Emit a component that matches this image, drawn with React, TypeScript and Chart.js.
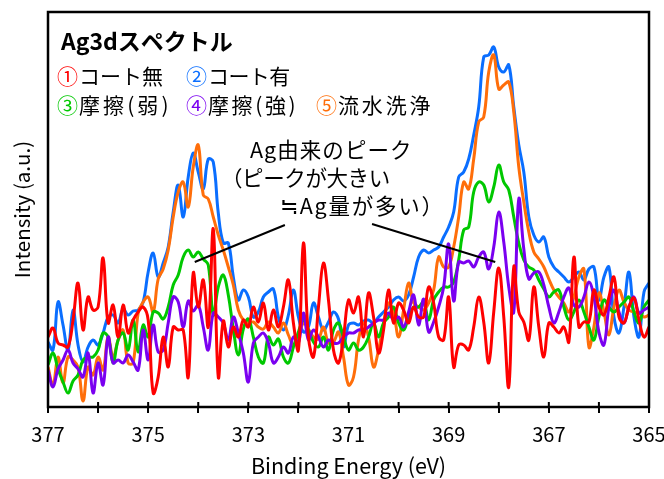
import React, { useEffect, useRef } from 'react';
import { Chart, registerables } from 'chart.js';

Chart.register(...registerables);

// Binding energy grid (eV): 377.0 → 365.0, 0.1 eV steps
const energyStart = 377;
const energyStep = 0.1;
const pointCount = 121;
const energies: number[] = Array.from({ length: pointCount }, (_, n) => Math.round((energyStart - energyStep * n) * 10) / 10);

// Intensities (a.u.), ordered from 377.0 eV to 365.0 eV
const coatNone: number[] = [
  70, 79, 64, 62, 60, 87, 124, 77, 110, 97, 100, 149, 84, 102, 70, 102, 74, 87, 95, 100,
  87, 14, 30, 70, 40, 80, 77, 77, 30, 134, 100, 127, 80, 178, 30, 86, 60, 80, 70, 87, 80,
  100, 85, 104, 77, 97, 80, 100, 127, 84, 57, 164, 70, 50, 100, 144, 107, 57, 44, 70, 107,
  94, 110, 70, 114, 90, 54, 77, 117, 84, 104, 97, 84, 100, 90, 90, 120, 104, 70, 67, 110,
  40, 62, 62, 57, 80, 110, 85, 44, 95, 139, 90, 20, 140, 95, 85, 67, 120, 80, 50, 84,
  80, 74, 80, 65, 150, 80, 85, 85, 117, 100, 92, 110, 130, 90, 84, 100, 109, 87, 70, 80,
];
const coatYes: number[] = [
  65, 57, 105, 82, 57, 97, 62, 45, 60, 67, 62, 74, 90, 92, 84, 98, 92, 96, 97, 105,
  135, 154, 130, 144, 160, 195, 222, 190, 230, 254, 235, 218, 248, 245, 194, 164, 164, 130, 107, 117, 110,
  90, 95, 110, 115, 118, 90, 77, 92, 117, 90, 75, 80, 104, 90, 77, 85, 95, 88, 60, 82,
  84, 82, 86, 87, 84, 90, 95, 100, 107, 110, 106, 112, 130, 150, 157, 154, 157, 160, 170, 180,
  195, 230, 235, 248, 272, 300, 350, 352, 360, 340, 335, 342, 300, 262, 235, 190, 172, 165, 170, 150,
  140, 135, 130, 125, 130, 135, 127, 138, 140, 107, 130, 140, 90, 74, 100, 135, 90, 70, 115, 124,
];
const rubWeak: number[] = [
  42, 54, 38, 25, 14, 26, 32, 47, 50, 50, 57, 74, 70, 44, 67, 74, 57, 87, 55, 82,
  70, 95, 94, 88, 100, 122, 132, 150, 157, 150, 155, 148, 142, 92, 120, 132, 112, 78, 52, 78, 88,
  70, 50, 44, 70, 62, 68, 50, 44, 60, 75, 87, 77, 65, 60, 70, 57, 77, 84, 70, 57,
  64, 57, 60, 70, 84, 70, 84, 90, 100, 84, 77, 90, 100, 100, 105, 87, 107, 115, 120, 120,
  125, 147, 177, 180, 215, 225, 222, 205, 220, 242, 225, 217, 190, 164, 147, 140, 137, 127, 118, 110,
  115, 117, 100, 87, 95, 107, 95, 80, 67, 90, 107, 100, 95, 100, 105, 110, 95, 84, 100, 107,
];
const rubStrong: number[] = [
  37, 20, 38, 47, 57, 44, 38, 30, 54, 14, 44, 22, 70, 44, 47, 44, 52, 45, 37, 77,
  47, 82, 55, 57, 84, 110, 105, 80, 106, 96, 102, 80, 57, 94, 90, 84, 67, 90, 74, 54, 25,
  64, 70, 74, 64, 44, 50, 60, 54, 70, 64, 94, 67, 77, 70, 60, 67, 64, 64, 70, 74,
  74, 77, 77, 80, 84, 87, 87, 94, 87, 90, 80, 95, 112, 82, 108, 75, 85, 100, 120, 163,
  106, 145, 144, 146, 140, 150, 155, 138, 160, 195, 165, 120, 95, 208, 158, 128, 134, 135, 122, 100,
  84, 95, 110, 119, 102, 100, 110, 125, 110, 75, 62, 100, 117, 95, 84, 100, 110, 94, 97, 100,
];
const waterWash: number[] = [
  40, 22, 50, 24, 50, 47, 40, 6, 40, 32, 50, 37, 70, 50, 67, 77, 44, 44, 94, 105,
  110, 95, 128, 138, 157, 190, 215, 225, 200, 240, 262, 212, 208, 190, 172, 157, 140, 122, 97, 87, 84,
  85, 80, 78, 85, 80, 74, 84, 72, 62, 70, 84, 78, 70, 68, 80, 64, 65, 75, 50, 22,
  30, 67, 84, 70, 40, 57, 84, 104, 94, 70, 97, 124, 104, 100, 97, 104, 117, 150, 140, 140,
  160, 190, 225, 218, 248, 285, 290, 335, 352, 318, 322, 325, 295, 240, 205, 175, 155, 148, 140, 128,
  117, 110, 104, 95, 110, 130, 138, 60, 80, 114, 95, 72, 100, 117, 105, 97, 95, 94, 90, 92,
];

const seriesNames = ['①コート無', '②コート有', '③摩擦(弱)', '④摩擦(強)', '⑤流水洗浄'];
const xTitle = 'Binding Energy (eV)';
const yTitle = 'Intensity (a.u.)';
const chartTitle = 'Ag3dスペクトル';
const noteLines = ['Ag由来のピーク', '（ピークが大きい', '≒Ag量が多い）'];

const RED = '#FF0000';
const BLUE = '#0A6EFF';
const GREEN = '#00C800';
const PURPLE = '#7A00F0';
const ORANGE = '#FF6E0A';

const FONT = '"Noto Sans CJK JP", "Noto Sans", sans-serif';

const toPoints = (vals: number[]) => energies.map((e, n) => ({ x: e, y: vals[n] }));

// draw text starting at x so that it spans up to xEnd (letter spacing adjusted)
function fitText(ctx: any, text: string, x: number, xEnd: number, y: number) {
  ctx.letterSpacing = '0px';
  const natural = ctx.measureText(text).width;
  const n = Array.from(text).length;
  const ls = n > 1 ? (xEnd - x - natural) / (n - 0.5) : 0;
  ctx.letterSpacing = `${ls.toFixed(2)}px`;
  ctx.fillText(text, x, y);
  ctx.letterSpacing = '0px';
}

const decorPlugin = {
  id: 'decor',
  afterDraw(chart: any) {
    const { ctx, chartArea } = chart;
    const xs = chart.scales.x;
    const ys = chart.scales.y;
    ctx.save();
    // frame
    ctx.strokeStyle = '#000';
    ctx.lineWidth = 2.5;
    ctx.strokeRect(chartArea.left, chartArea.top, chartArea.right - chartArea.left, chartArea.bottom - chartArea.top);
    // inner tick parts
    ctx.lineWidth = 2;
    ctx.beginPath();
    xs.ticks.forEach((t: any) => {
      const px = xs.getPixelForValue(t.value);
      ctx.moveTo(px, chartArea.bottom);
      ctx.lineTo(px, chartArea.bottom - 5);
    });
    ctx.stroke();

    // pointer lines
    ctx.lineWidth = 2;
    ctx.beginPath();
    ctx.moveTo(xs.getPixelForValue(374.07), ys.getPixelForValue(145));
    ctx.lineTo(xs.getPixelForValue(372.27), ys.getPixelForValue(182));
    ctx.moveTo(xs.getPixelForValue(370.53), ys.getPixelForValue(183));
    ctx.lineTo(xs.getPixelForValue(368.07), ys.getPixelForValue(145));
    ctx.stroke();

    ctx.textBaseline = 'middle';
    ctx.textAlign = 'left';
    // title
    ctx.fillStyle = '#000';
    ctx.font = `bold 23px ${FONT}`;
    ctx.fillText(chartTitle, 61, 41);

    // legend
    ctx.font = `21px ${FONT}`;
    const items = [
      { name: seriesNames[0], color: RED, x: 57, end: 163, y: 76 },
      { name: seriesNames[1], color: BLUE, x: 186, end: 290, y: 76 },
      { name: seriesNames[2], color: GREEN, x: 57, end: 170, y: 105 },
      { name: seriesNames[3], color: PURPLE, x: 186, end: 297, y: 105 },
      { name: seriesNames[4], color: ORANGE, x: 316, end: 432, y: 105 },
    ];
    items.forEach((it) => {
      const circ = it.name.slice(0, 1);
      const rest = it.name.slice(1);
      ctx.fillStyle = it.color;
      ctx.fillText(circ, it.x, it.y);
      const w = ctx.measureText(circ).width;
      ctx.fillStyle = '#000';
      fitText(ctx, rest, it.x + w + 1, it.end, it.y);
    });

    // note text
    ctx.fillStyle = '#000';
    ctx.font = `21.5px ${FONT}`;
    fitText(ctx, noteLines[0], 250, 412, 150);
    fitText(ctx, noteLines[1], 221, 390, 178);
    fitText(ctx, noteLines[2], 280, 444, 206);
    ctx.restore();
  },
};

export default function App() {
  const canvasRef = useRef<HTMLCanvasElement | null>(null);

  useEffect(() => {
    document.body.style.margin = '0';
    const canvas = canvasRef.current;
    if (!canvas) return;
    Chart.defaults.font.family = FONT;
    const mk = (label: string, vals: number[], color: string) => ({
      label,
      data: toPoints(vals),
      borderColor: color,
      backgroundColor: color,
      borderWidth: 3,
      pointRadius: 0,
      tension: 0.4,
      fill: false,
    });
    const chart = new Chart(canvas, {
      type: 'line',
      data: {
        datasets: [
          mk(seriesNames[0], coatNone, RED),
          mk(seriesNames[3], rubStrong, PURPLE),
          mk(seriesNames[2], rubWeak, GREEN),
          mk(seriesNames[4], waterWash, ORANGE),
          mk(seriesNames[1], coatYes, BLUE),
        ],
      },
      options: {
        animation: false,
        responsive: false,
        devicePixelRatio: 1,
        layout: { padding: { top: 12, right: 15, left: 0, bottom: 0 } },
        plugins: { legend: { display: false }, tooltip: { enabled: false } },
        scales: {
          x: {
            type: 'linear',
            reverse: true,
            min: 365,
            max: 377,
            afterFit: (s: any) => { s.height = 72; s.paddingLeft = 0; s.paddingRight = 0; },
            border: { display: false },
            grid: { drawOnChartArea: false, drawTicks: true, tickLength: 6, color: '#000', lineWidth: 2 },
            ticks: {
              stepSize: 1,
              autoSkip: false,
              maxRotation: 0,
              color: '#000',
              padding: 9,
              font: { size: 20 },
              callback: (v: any) => (Math.round(377 - Number(v)) % 2 === 0 ? String(v) : ''),
            },
            title: { display: true, text: xTitle, color: '#000', font: { size: 21.5 }, padding: { top: 0, bottom: 0 } },
          },
          y: {
            min: 0,
            max: 395,
            afterFit: (s: any) => { s.width = 48; },
            border: { display: false },
            grid: { display: false },
            ticks: { display: false },
            title: { display: true, text: yTitle, color: '#000', font: { size: 20.5 }, padding: { top: 10, bottom: 0 } },
          },
        },
      },
      plugins: [decorPlugin],
    });
    return () => chart.destroy();
  }, []);

  return <canvas ref={canvasRef} width={664} height={479} style={{ display: 'block', width: 664, height: 479 }} />;
}
